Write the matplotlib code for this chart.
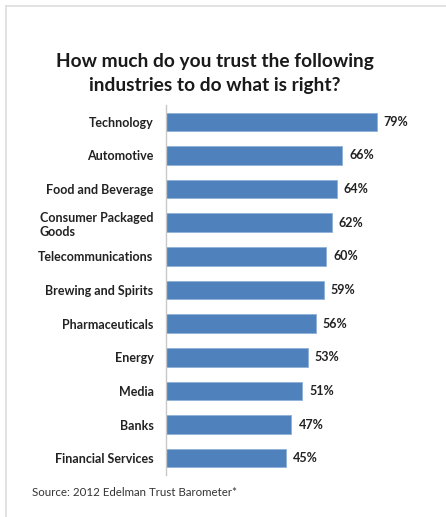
import matplotlib.pyplot as plt
from matplotlib.lines import Line2D

industries = ["Technology", "Automotive", "Food and Beverage",
              "Consumer Packaged\nGoods", "Telecommunications",
              "Brewing and Spirits", "Pharmaceuticals", "Energy",
              "Media", "Banks", "Financial Services"]
trust = [79, 66, 64, 62, 60, 59, 56, 53, 51, 47, 45]

W, H = 446, 517
fig = plt.figure(figsize=(W / 100, H / 100), dpi=100)
plt.rcParams['font.family'] = ['Lato', 'DejaVu Sans']

# light frame along top and left
fig.add_artist(Line2D([6 / W, 1], [1 - 6 / H, 1 - 6 / H], color='#dddddd', lw=1.2))
fig.add_artist(Line2D([6 / W, 6 / W], [0, 1 - 6 / H], color='#dddddd', lw=1.2))

ax = fig.add_axes([166 / W, 1 - 475 / H, 267 / W, 370 / H])
ypos = range(len(industries))
ax.barh(ypos, trust, height=0.55, color='#4f81bd', edgecolor='#8fb0d8', lw=0.6)
ax.set_xlim(0, 100)
ax.set_ylim(len(industries) - 0.5, -0.5)

for y, v in zip(ypos, trust):
    ax.text(v + 2.6, y, f"{v}%", va='center', ha='left', fontsize=9,
            fontweight='bold', color='#222222')

ax.set_yticks(list(ypos))
ax.set_yticklabels(industries, fontsize=9, fontweight='bold', color='#222222',
                   multialignment='left')
ax.tick_params(axis='y', length=0, pad=9)
ax.set_xticks([])
for s in ['top', 'right', 'bottom']:
    ax.spines[s].set_visible(False)
ax.spines['left'].set_color('#c8c8c8')
ax.spines['left'].set_linewidth(1)

fig.text(215 / W, 1 - 62 / H, "How much do you trust the following",
         ha='center', va='center', fontsize=13.8, fontweight='bold', color='#1a1a1a')
fig.text(215 / W, 1 - 85 / H, "industries to do what is right?",
         ha='center', va='center', fontsize=13.8, fontweight='bold', color='#1a1a1a')

fig.text(32 / W, 1 - 492 / H, "Source: 2012 Edelman Trust Barometer*",
         ha='left', va='center', fontsize=8.3, color='#333333')

fig.savefig("out.png", dpi=100, facecolor='white')
